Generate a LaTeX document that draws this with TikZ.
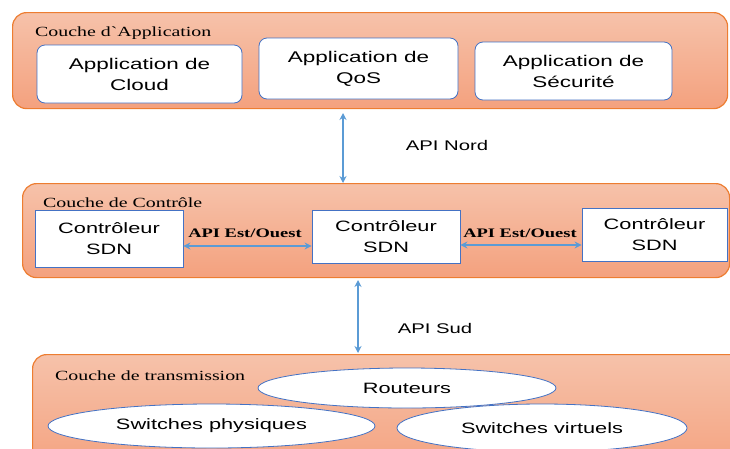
\documentclass[tikz,border=0pt]{standalone}
\usepackage{fontspec}
\setmainfont{Liberation Serif}
\setsansfont{Liberation Sans}
\newfontfamily\titlefont[FakeStretch=1.42,Ligatures=TeXOff]{Liberation Serif}
\newfontfamily\widesans[FakeStretch=1.45]{Liberation Sans}
\newfontfamily\ewfont[FakeStretch=1.42]{Liberation Serif}
\usetikzlibrary{shapes.geometric,arrows.meta}
\definecolor{layerborder}{HTML}{ED7D31}
\definecolor{layertop}{HTML}{F6C2AA}
\definecolor{layerbot}{HTML}{F4A17E}
\definecolor{boxblue}{HTML}{4472C4}
\definecolor{arrowblue}{HTML}{5B9BD5}
\tikzset{
  layer/.style={draw=layerborder, line width=1.2pt, rounded corners=14pt, top color=layertop, bottom color=layerbot},
  layertitle/.style={anchor=west, inner sep=0pt, font=\titlefont\fontsize{14}{14}\selectfont},
  appbox/.style={draw=boxblue, line width=0.8pt, fill=white, rounded corners=8pt, align=center, font=\widesans\fontsize{15.5}{21}\selectfont},
  ctrlbox/.style={draw=boxblue, line width=0.8pt, fill=white, align=center, font=\widesans\fontsize{15}{21}\selectfont},
  ell/.style={ellipse, draw=boxblue, line width=0.8pt, fill=white, inner sep=0pt, font=\widesans\fontsize{15}{17}\selectfont},
  api/.style={arrowblue, line width=1.2pt, {Stealth[length=7pt,width=7pt]}-{Stealth[length=7pt,width=7pt]}},
  apilabel/.style={font=\widesans\fontsize{14}{16}\selectfont},
  ewlabel/.style={font=\ewfont\bfseries\fontsize{13}{13}\selectfont}
}
\begin{document}
\begin{tikzpicture}[x=1pt,y=-1pt]
\useasboundingbox (0,0) rectangle (730,448);
% layers
\node[layer, minimum width=715pt, minimum height=96pt, anchor=north west, inner sep=0pt] (appl) at (12,12) {};
\node[layer, minimum width=707pt, minimum height=94pt, anchor=north west, inner sep=0pt] (ctrll) at (22,183) {};
\node[layer, minimum width=720pt, minimum height=120pt, anchor=north west, inner sep=0pt] (transl) at (32,354) {};
% titles
\node[layertitle] (t1) at (35,33) {Couche d`Application};
\node[layertitle] (t2) at (43,203) {Couche de Contrôle};
\node[layertitle] (t3) at (55,376) {Couche de transmission};
% application boxes
\node[appbox, minimum width=205pt, minimum height=58pt] (cloud) at (139.5,74) {Application de\\Cloud};
\node[appbox, minimum width=199pt, minimum height=61pt] (qos) at (358.5,68.5) {Application de\\QoS};
\node[appbox, minimum width=197pt, minimum height=58pt] (secu) at (573.5,71) {Application de\\Sécurité};
% controllers
\node[ctrlbox, minimum width=148pt, minimum height=57pt] (c1) at (109,238.5) {Contrôleur\\SDN};
\node[ctrlbox, minimum width=148pt, minimum height=53pt] (c2) at (386,236.5) {Contrôleur\\SDN};
\node[ctrlbox, minimum width=145pt, minimum height=53pt] (c3) at (654.5,234.5) {Contrôleur\\SDN};
% ellipses
\node[ell, minimum width=298pt, minimum height=40pt] (rout) at (407,388) {Routeurs};
\node[ell, minimum width=327pt, minimum height=44pt] (swp) at (211.5,426) {Switches physiques};
\node[ell, minimum width=290pt, minimum height=48pt] (swv) at (542,428) {Switches virtuels};
% arrows
\coordinate (n1) at (343,113);
\coordinate (n2) at (343,183);
\draw[api] (n1) -- (n2);
\node[apilabel] (nord) at (447,145) {API Nord};
\draw[api] (c1.east |- 0,246) -- (c2.west |- 0,246);
\node[ewlabel] (ew1) at (245,233) {API Est/Ouest};
\draw[api] (c2.east |- 0,245) -- (c3.west |- 0,245);
\node[ewlabel] (ew2) at (520,233) {API Est/Ouest};
\coordinate (s1) at (358,280);
\coordinate (s2) at (358,353);
\draw[api] (s1) -- (s2);
\node[apilabel] (sud) at (435,328) {API Sud};
\end{tikzpicture}
\end{document}
